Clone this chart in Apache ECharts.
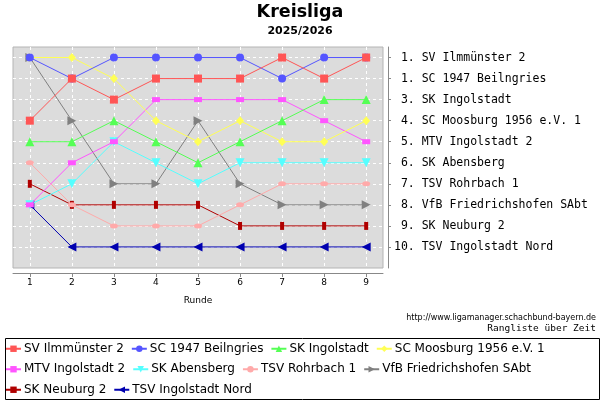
<!DOCTYPE html>
<html>
<head>
<meta charset="utf-8">
<script src="https://cdn.jsdelivr.net/npm/echarts@6/dist/echarts.min.js"></script>
<style>
  html, body { margin: 0; padding: 0; background: #fff; }
  #chart { width: 600px; height: 400px; }
</style>
</head>
<body>
<div id="chart"></div>
<script>
// rounds and rank positions
var rounds = [1, 2, 3, 4, 5, 6, 7, 8, 9];
var rankTicks = [1, 2, 3, 4, 5, 6, 7, 8, 9, 10];
var rankLabels = [
  ' 1. SV Ilmmünster 2',
  ' 1. SC 1947 Beilngries',
  ' 3. SK Ingolstadt',
  ' 4. SC Moosburg 1956 e.V. 1',
  ' 5. MTV Ingolstadt 2',
  ' 6. SK Abensberg',
  ' 7. TSV Rohrbach 1',
  ' 8. VfB Friedrichshofen SAbt',
  ' 9. SK Neuburg 2',
  '10. TSV Ingolstadt Nord'
];

var teams = [
  'SV Ilmmünster 2', 'SC 1947 Beilngries', 'SK Ingolstadt', 'SC Moosburg 1956 e.V. 1',
  'MTV Ingolstadt 2', 'SK Abensberg', 'TSV Rohrbach 1', 'VfB Friedrichshofen SAbt',
  'SK Neuburg 2', 'TSV Ingolstadt Nord'
];

// rank per round
var ilmmuenster   = [4, 2, 3, 2, 2, 2, 1, 2, 1];
var beilngries    = [1, 2, 1, 1, 1, 1, 2, 1, 1];
var skIngolstadt  = [5, 5, 4, 5, 6, 5, 4, 3, 3];
var moosburg      = [1, 1, 2, 4, 5, 4, 5, 5, 4];
var mtvIngolstadt = [8, 6, 5, 3, 3, 3, 3, 4, 5];
var abensberg     = [8, 7, 5, 6, 7, 6, 6, 6, 6];
var rohrbach      = [6, 8, 9, 9, 9, 8, 7, 7, 7];
var friedrichsh   = [1, 4, 7, 7, 4, 7, 8, 8, 8];
var neuburg       = [7, 8, 8, 8, 8, 9, 9, 9, 9];
var ingolstadtN   = [8, 10, 10, 10, 10, 10, 10, 10, 10];

var ranks = [ilmmuenster, beilngries, skIngolstadt, moosburg, mtvIngolstadt,
             abensberg, rohrbach, friedrichsh, neuburg, ingolstadtN];

var colors = ['#ff5555', '#5555ff', '#55ff55', '#ffff55', '#ff55ff',
              '#55ffff', '#ffaaaa', '#808080', '#b00000', '#0000b0'];
var symbols = ['rect', 'circle', 'triangle', 'diamond', 'rect',
               'triangle', 'circle', 'triangle', 'rect', 'triangle'];
var sizes = [8, 8, 9, [8, 9], [8, 5], 9, [8, 5], 9, [4, 8], 9];
var rotates = [0, 0, 0, 0, 0, 180, 0, -90, 0, 90];

var series = teams.map(function (name, i) {
  return {
    name: name,
    type: 'line',
    data: rounds.map(function (r, j) { return [r, ranks[i][j]]; }),
    symbol: symbols[i],
    symbolSize: sizes[i],
    symbolRotate: rotates[i],
    showAllSymbol: true,
    z: 20 - i,
    lineStyle: { color: colors[i], width: 1 },
    itemStyle: { color: colors[i] },
    emphasis: { disabled: true },
    animation: false
  };
});

var chart = echarts.init(document.getElementById('chart'));
chart.setOption({
  animation: false,
  title: {
    text: 'Kreisliga',
    subtext: '2025/2026',
    left: 'center',
    top: 2,
    itemGap: 3,
    padding: 0,
    textStyle: { fontFamily: 'DejaVu Sans', fontSize: 17.5, fontWeight: 'bold', color: '#000', lineHeight: 20 },
    subtextStyle: { fontFamily: 'DejaVu Sans', fontSize: 11, fontWeight: 'bold', color: '#000', lineHeight: 13 }
  },
  grid: {
    left: 13, top: 47, width: 370, height: 221,
    show: true,
    backgroundColor: '#dcdcdc',
    borderColor: '#b4b4b4',
    borderWidth: 1,
    containLabel: false
  },
  xAxis: {
    type: 'value',
    min: 0.6, max: 9.4,
    position: 'bottom',
    offset: 5,
    name: 'Runde',
    nameLocation: 'middle',
    nameGap: 23,
    nameTextStyle: { fontFamily: 'DejaVu Sans', fontSize: 9, color: '#000' },
    axisLine: { show: true, lineStyle: { color: '#888', width: 1 } },
    axisTick: { show: true, length: 4, customValues: rounds, lineStyle: { color: '#888' } },
    axisLabel: { customValues: rounds, fontFamily: 'DejaVu Sans', fontSize: 9, color: '#000', margin: 5 },
    splitLine: { show: true, lineStyle: { color: '#ffffff', type: [3, 3], width: 1 } }
  },
  yAxis: {
    type: 'value',
    inverse: true,
    min: 0.5, max: 11,
    position: 'right',
    offset: 5,
    axisLine: { show: true, lineStyle: { color: '#888', width: 1 } },
    axisTick: { show: true, length: 3, customValues: rankTicks, lineStyle: { color: '#888' } },
    axisLabel: {
      customValues: rankTicks,
      formatter: function (v) { return rankLabels[v - 1] || ''; },
      fontFamily: 'DejaVu Sans Mono', fontSize: 11.5, color: '#000', margin: 6
    },
    splitLine: { show: true, lineStyle: { color: '#ffffff', type: [3, 3], width: 1 } }
  },
  legend: {
    data: teams,
    left: 3, top: 336,
    width: 590,
    padding: [6, 2, 3, 2],
    itemGap: 7,
    itemWidth: 15,
    itemHeight: 8,
    textStyle: { fontFamily: 'DejaVu Sans', fontSize: 12, color: '#000', lineHeight: 13.5, padding: [0, 0, 0, -2] }
  },
  graphic: [
    {
      type: 'rect', left: 3, top: 336, z: 0,
      shape: { width: 594, height: 61 },
      style: { fill: 'none', stroke: '#000', lineWidth: 1 }
    },
    {
      type: 'text', right: 4, top: 314,
      style: { text: 'http://www.ligamanager.schachbund-bayern.de', font: '8px "DejaVu Sans"', fill: '#000' }
    },
    {
      type: 'text', right: 4, top: 324,
      style: { text: 'Rangliste über Zeit', font: '9.5px "DejaVu Sans Mono"', fill: '#000' }
    }
  ],
  series: series
});
</script>
</body>
</html>
